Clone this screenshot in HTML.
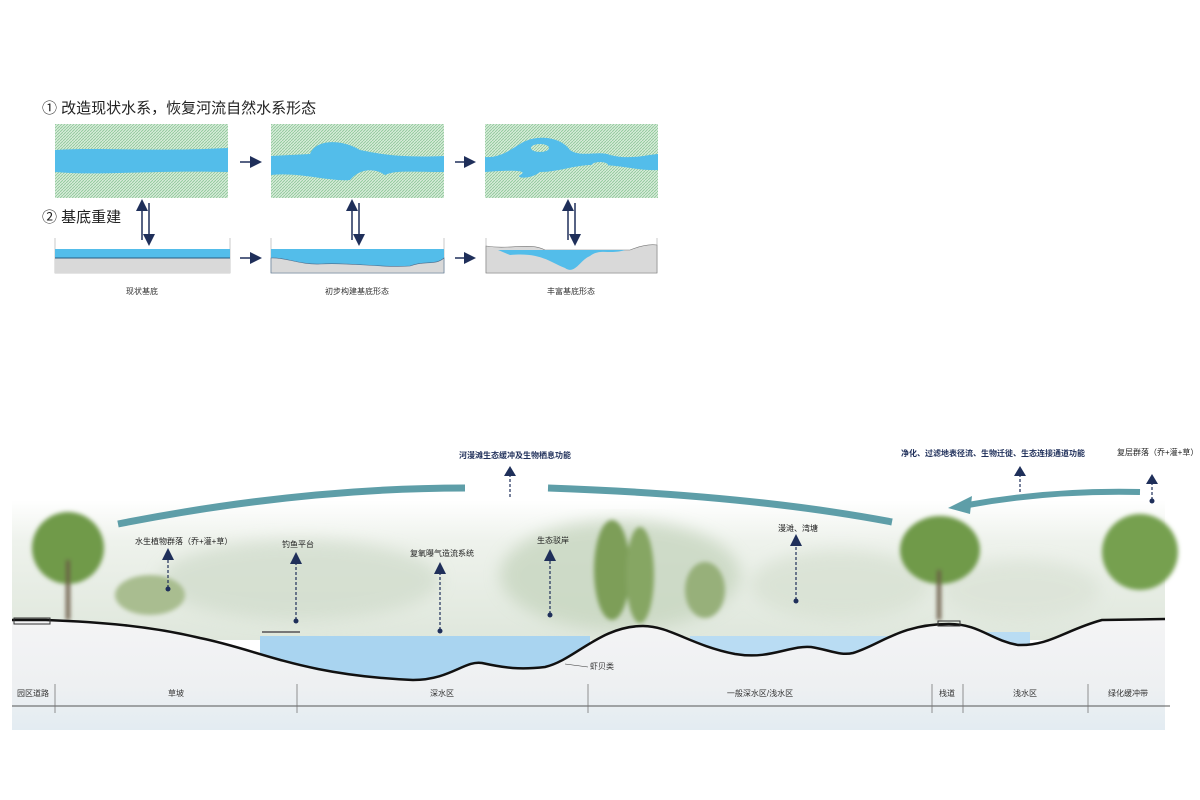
<!DOCTYPE html>
<html><head><meta charset="utf-8"><style>
body{margin:0;background:#fff;}
svg{display:block}
text{font-family:"Liberation Sans","Noto Sans CJK SC",sans-serif;}
</style></head><body>
<svg width="1200" height="800" viewBox="0 0 1200 800" xmlns="http://www.w3.org/2000/svg">
<defs>
<pattern id="h" width="3" height="3" patternUnits="userSpaceOnUse">
<rect width="3" height="3" fill="#d6ebd8"/><path d="M0 3L3 0" stroke="#8cc798" stroke-width="0.8"/>
</pattern>
<linearGradient id="g" x1="0" y1="0" x2="0" y2="1"><stop offset="0" stop-color="#f4f4f5"/><stop offset="0.6" stop-color="#eef0f2"/><stop offset="1" stop-color="#e3ecf2"/></linearGradient>
<linearGradient id="bg" x1="0" y1="0" x2="0" y2="1"><stop offset="0" stop-color="#fff"/><stop offset="0.3" stop-color="#eef2ec"/><stop offset="1" stop-color="#dfe7dc"/></linearGradient>
<marker id="a" markerWidth="8" markerHeight="8" refX="4" refY="4" orient="auto"><path d="M0 0L8 4L0 8z" fill="#1f2f5a"/></marker>
<filter id="bl"><feGaussianBlur stdDeviation="8"/></filter>
<filter id="bl2"><feGaussianBlur stdDeviation="2"/></filter>
</defs>
<text x="42" y="113" font-size="15" fill="#222">① 改造现状水系，恢复河流自然水系形态</text>
<text x="42" y="222" font-size="15" fill="#222">② 基底重建</text>
<rect x="55" y="124" width="173" height="74" fill="url(#h)"/>
<path d="M55 150 C100 147 150 152 228 148 L228 172 C150 170 100 176 55 172Z" fill="#53bdea"/>
<rect x="271" y="124" width="173" height="74" fill="url(#h)"/>
<path d="M271 156 L310 154 C315 140 340 138 360 150 C380 154 400 158 444 156 L444 172 C410 172 395 170 385 175 C375 168 360 168 350 180 C330 182 300 172 271 175Z" fill="#53bdea"/>
<rect x="485" y="124" width="173" height="74" fill="url(#h)"/>
<path d="M485 157 C500 158 510 150 520 144 C535 134 560 136 570 150 C580 158 600 150 610 155 C630 160 645 155 658 154 L658 170 C640 171 620 165 600 165 C580 163 560 172 540 172 C530 180 515 178 520 175 C530 170 510 170 485 172Z" fill="#53bdea"/>
<ellipse cx="540" cy="148" rx="9" ry="4" fill="url(#h)"/><ellipse cx="600" cy="165" rx="8" ry="3" fill="url(#h)"/>
<g stroke="#1f2f5a" stroke-width="1.5" marker-end="url(#a)">
<line x1="240" y1="162" x2="256" y2="162"/><line x1="455" y1="162" x2="470" y2="162"/>
<line x1="240" y1="258" x2="256" y2="258"/><line x1="455" y1="258" x2="470" y2="258"/>
<line x1="142" y1="240" x2="142" y2="205"/><line x1="149" y1="203" x2="149" y2="240"/>
<line x1="352" y1="240" x2="352" y2="205"/><line x1="359" y1="203" x2="359" y2="240"/>
<line x1="568" y1="240" x2="568" y2="205"/><line x1="575" y1="203" x2="575" y2="240"/>
</g>
<path d="M55 238V273H230V238" fill="none" stroke="#bbb" stroke-width="0.8"/>
<rect x="55" y="250" width="175" height="23" fill="#d9d9d9"/>
<rect x="55" y="249" width="175" height="9" fill="#53bdea"/>
<line x1="55" y1="258" x2="230" y2="258" stroke="#2a5a80"/>
<path d="M271 238V273H444V238" fill="none" stroke="#bbb" stroke-width="0.8"/>
<path d="M271 249H444V258C435 266 425 260 410 266C380 268 350 262 320 264C300 265 285 257 271 258Z" fill="#53bdea"/>
<path d="M271 258C285 257 300 265 320 264C350 262 380 268 410 266C425 260 435 266 444 258V273H271Z" fill="#d9d9d9" stroke="#4a6a8a" stroke-width="0.6"/>
<path d="M486 238V273H657V238" fill="none" stroke="#bbb" stroke-width="0.8"/>
<path d="M486 246C510 250 530 242 545 250H630C640 246 650 244 657 245V273H486Z" fill="#d9d9d9" stroke="#777" stroke-width="0.6"/>
<path d="M498 250H625C610 255 600 248 590 256C580 260 575 275 565 268C550 262 540 252 510 255Z" fill="#53bdea"/>
<text x="142" y="294" font-size="8" text-anchor="middle" fill="#333">现状基底</text>
<text x="357" y="294" font-size="8" text-anchor="middle" fill="#333">初步构建基底形态</text>
<text x="571" y="294" font-size="8" text-anchor="middle" fill="#333">丰富基底形态</text>
<rect x="12" y="500" width="1153" height="140" fill="url(#bg)"/>
<g filter="url(#bl)" opacity="0.8">
<ellipse cx="300" cy="580" rx="140" ry="40" fill="#d2ddcd"/>
<ellipse cx="620" cy="575" rx="120" ry="55" fill="#c7d6c0"/>
<ellipse cx="840" cy="585" rx="90" ry="35" fill="#d8e1d3"/>
<ellipse cx="1020" cy="590" rx="80" ry="30" fill="#dbe3d7"/>
</g>
<g filter="url(#bl2)">
<ellipse cx="68" cy="548" rx="36" ry="36" fill="#6f9a4a"/><rect x="66" y="560" width="4" height="60" fill="#6b5a45"/>
<ellipse cx="940" cy="550" rx="40" ry="34" fill="#6f9a4a"/><rect x="937" y="570" width="4" height="50" fill="#6b5a45"/>
<ellipse cx="1140" cy="552" rx="38" ry="38" fill="#76a050"/>
<ellipse cx="612" cy="570" rx="18" ry="50" fill="#7d9e58"/>
<ellipse cx="640" cy="575" rx="14" ry="48" fill="#86a663"/>
<ellipse cx="705" cy="590" rx="20" ry="28" fill="#97b07a"/>
<ellipse cx="150" cy="595" rx="35" ry="20" fill="#a9bd90"/>
</g>
<path d="M260 636H590V690H260Z" fill="#a9d4f0"/>
<path d="M690 636H890V660H690Z" fill="#b9dcf3"/>
<path d="M985 632H1030V650H985Z" fill="#b9dcf3"/>
<path d="M12 620 L46 620 C100 622 150 626 200 638 C260 650 300 675 413 680 C450 680 465 660 482 663 C505 668 520 670 545 667 C575 660 600 626 643 626 C670 626 690 645 735 654 C770 660 790 645 811 647 C830 650 840 656 853 653 C880 645 900 624 949 624 C980 624 990 640 1018 645 C1050 646 1065 630 1102 620 L1165 619 L1165 730 L12 730Z" fill="url(#g)"/>
<path d="M12 620 L46 620 C100 622 150 626 200 638 C260 650 300 675 413 680 C450 680 465 660 482 663 C505 668 520 670 545 667 C575 660 600 626 643 626 C670 626 690 645 735 654 C770 660 790 645 811 647 C830 650 840 656 853 653 C880 645 900 624 949 624 C980 624 990 640 1018 645 C1050 646 1065 630 1102 620 L1165 619" fill="none" stroke="#111" stroke-width="2.5"/>
<rect x="14" y="618" width="36" height="6" fill="none" stroke="#333"/>
<rect x="938" y="621" width="22" height="5" fill="none" stroke="#333"/>
<line x1="262" y1="632" x2="300" y2="632" stroke="#777" stroke-width="2"/>
<line x1="12" y1="706" x2="1170" y2="706" stroke="#555"/>
<g stroke="#777" stroke-width="0.8">
<line x1="55" y1="684" x2="55" y2="713"/><line x1="297" y1="684" x2="297" y2="713"/><line x1="588" y1="684" x2="588" y2="713"/><line x1="932" y1="684" x2="932" y2="713"/><line x1="963" y1="684" x2="963" y2="713"/><line x1="1088" y1="684" x2="1088" y2="713"/>
</g>
<g font-size="8" fill="#333" text-anchor="middle">
<text x="33" y="696">园区道路</text><text x="176" y="696">草坡</text><text x="442" y="696">深水区</text><text x="760" y="696">一般深水区/浅水区</text><text x="947" y="696">栈道</text><text x="1025" y="696">浅水区</text><text x="1128" y="696">绿化缓冲带</text>
<text x="590" y="669" text-anchor="start">虾贝类</text>
</g>
<line x1="565" y1="664" x2="588" y2="667" stroke="#333" stroke-width="0.6"/>
<path d="M118 524 Q300 488 465 488" fill="none" stroke="#5e9ea8" stroke-width="7"/>
<path d="M548 488 Q750 495 892 522" fill="none" stroke="#5e9ea8" stroke-width="7"/>
<path d="M1140 492 Q1050 490 968 505" fill="none" stroke="#5e9ea8" stroke-width="6"/>
<path d="M948 508 L972 496 L970 514Z" fill="#5e9ea8"/>
<g font-size="8" fill="#1f2f5a" font-weight="bold">
<text x="515" y="458" text-anchor="middle">河漫滩生态缓冲及生物栖息功能</text>
<text x="993" y="456" text-anchor="middle">净化、过滤地表径流、生物迁徙、生态连接通道功能</text>
</g>
<g font-size="8" fill="#222">
<text x="1117" y="455">复层群落（乔+灌+草）</text>
<text x="135" y="544">水生植物群落（乔+灌+草）</text>
<text x="282" y="547">钓鱼平台</text>
<text x="410" y="556">复氧曝气造流系统</text>
<text x="537" y="543">生态驳岸</text>
<text x="778" y="531">漫滩、湾塘</text>
</g>
<g stroke="#1f2f5a" stroke-width="1.2" stroke-dasharray="3,2" fill="#1f2f5a">
<line x1="510" y1="497" x2="510" y2="470"/><line x1="1020" y1="492" x2="1020" y2="470"/><line x1="1152" y1="500" x2="1152" y2="478"/>
<line x1="168" y1="588" x2="168" y2="555"/><line x1="296" y1="620" x2="296" y2="558"/><line x1="440" y1="630" x2="440" y2="568"/><line x1="550" y1="614" x2="550" y2="555"/><line x1="796" y1="600" x2="796" y2="540"/>
</g>
<g fill="#1f2f5a">
<path d="M504 476L510 466L516 476Z"/><path d="M1014 476L1020 466L1026 476Z"/><path d="M1146 484L1152 474L1158 484Z"/>
<path d="M162 560L168 548L174 560Z"/><path d="M290 564L296 552L302 564Z"/><path d="M434 574L440 562L446 574Z"/><path d="M544 561L550 549L556 561Z"/><path d="M790 546L796 534L802 546Z"/>
<circle cx="168" cy="589" r="2.5"/><circle cx="296" cy="621" r="2.5"/><circle cx="440" cy="631" r="2.5"/><circle cx="550" cy="615" r="2.5"/><circle cx="796" cy="601" r="2.5"/><circle cx="1152" cy="501" r="2.5"/>
</g>
</svg>
</body></html>
